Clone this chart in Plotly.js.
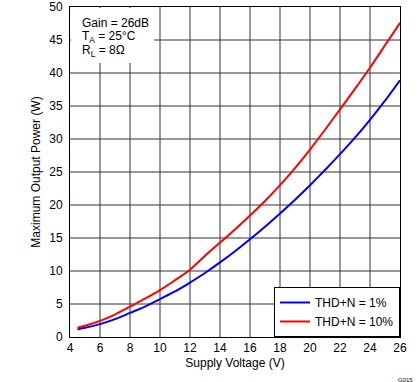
<!DOCTYPE html>
<html>
<head>
<meta charset="utf-8">
<script src="https://cdn.plot.ly/plotly-3.0.1.min.js"></script>
<style>html,body{margin:0;padding:0;background:#fff;}#chart{width:419px;height:382px;}</style>
</head>
<body>
<div id="chart"></div>
<script>
const supplyVoltage = [4.5, 5, 6, 7, 8, 9, 10, 11, 12, 13, 14, 15, 16, 17, 18, 19, 20, 21, 22, 23, 24, 25, 26];
const powerTHD1 = [1.15, 1.4, 1.95, 2.7, 3.65, 4.6, 5.75, 6.9, 8.25, 9.7, 11.3, 13.0, 14.8, 16.7, 18.7, 20.8, 23.0, 25.3, 27.7, 30.2, 32.9, 35.8, 38.9];
const powerTHD10 = [1.4, 1.7, 2.45, 3.4, 4.6, 5.8, 7.1, 8.6, 10.2, 12.3, 14.3, 16.3, 18.4, 20.6, 23.0, 25.6, 28.4, 31.4, 34.5, 37.6, 40.8, 44.2, 47.6];
const seriesNames = ["THD+N = 1%", "THD+N = 10%"];
const xTicks = [4, 6, 8, 10, 12, 14, 16, 18, 20, 22, 24, 26];
const yTicks = [0, 5, 10, 15, 20, 25, 30, 35, 40, 45, 50];
const conditionLines = ["Gain = 26dB", "T<sub>A</sub> = 25°C", "R<sub>L</sub> = 8Ω"];

const font = {family: "Liberation Sans, Arial, sans-serif", size: 12, color: "#000"};
const gridColor = "#333333";

const traces = [
  {x: supplyVoltage, y: powerTHD1, name: seriesNames[0], mode: "lines", line: {color: "#0000ff", width: 2, shape: "spline", smoothing: 0.6}},
  {x: supplyVoltage, y: powerTHD10, name: seriesNames[1], mode: "lines", line: {color: "#ff0000", width: 2, shape: "spline", smoothing: 0.6}}
];

function axis(extra) {
  return Object.assign({
    showgrid: false,
    showline: true, linecolor: "#000", linewidth: 1, mirror: true,
    zeroline: false, ticks: "outside", tickcolor: "rgba(0,0,0,0)", tickfont: font,
    tickmode: "array"
  }, extra);
}

// grid lines built from the tick arrays, positioned by the axes' own scales
const shapes = [];
xTicks.slice(1, -1).forEach(v => shapes.push({
  type: "line", xref: "x", yref: "paper", x0: v, x1: v, y0: 0, y1: 1,
  line: {color: gridColor, width: 1}, layer: "between"
}));
yTicks.slice(1, -1).forEach(v => shapes.push({
  type: "line", xref: "paper", yref: "y", x0: 0, x1: 1, y0: v, y1: v,
  line: {color: gridColor, width: 1}, layer: "between"
}));
// white backing box behind the test-condition text
shapes.push({
  type: "rect", xref: "paper", yref: "paper", x0: 0.003, x1: 0.255, y0: 0.83, y1: 0.997,
  fillcolor: "#fff", line: {width: 0}, layer: "between"
});

const condY = [0.9515, 0.909, 0.867];
const annotations = conditionLines.map((t, i) => ({
  xref: "paper", yref: "paper", x: 0.031, y: condY[i], xanchor: "left", yanchor: "middle",
  align: "left", showarrow: false, font: font, text: t
}));
annotations.push({
  xref: "paper", yref: "paper", x: 1.045, y: -0.13, xanchor: "right", yanchor: "middle",
  showarrow: false, font: {family: font.family, size: 6, color: "#000"}, text: "G015"
});

const layout = {
  width: 419, height: 382,
  margin: {l: 70, r: 19, t: 7, b: 45},
  paper_bgcolor: "#fff", plot_bgcolor: "#fff",
  font: font,
  showlegend: true,
  legend: {
    x: 1, xanchor: "right", y: 0, yanchor: "bottom",
    bgcolor: "#fff", bordercolor: "#000", borderwidth: 1,
    font: font, itemwidth: 30
  },
  xaxis: axis({
    range: [4, 26], tickvals: xTicks, ticklen: 0,
    title: {text: "Supply Voltage (V)", font: font, standoff: 4}
  }),
  yaxis: axis({
    range: [0, 50], tickvals: yTicks, ticklen: 4,
    title: {text: "Maximum Output Power (W)", font: font, standoff: 6}
  }),
  shapes: shapes,
  annotations: annotations
};

Plotly.newPlot("chart", traces, layout, {displayModeBar: false, staticPlot: true});
</script>
</body>
</html>
